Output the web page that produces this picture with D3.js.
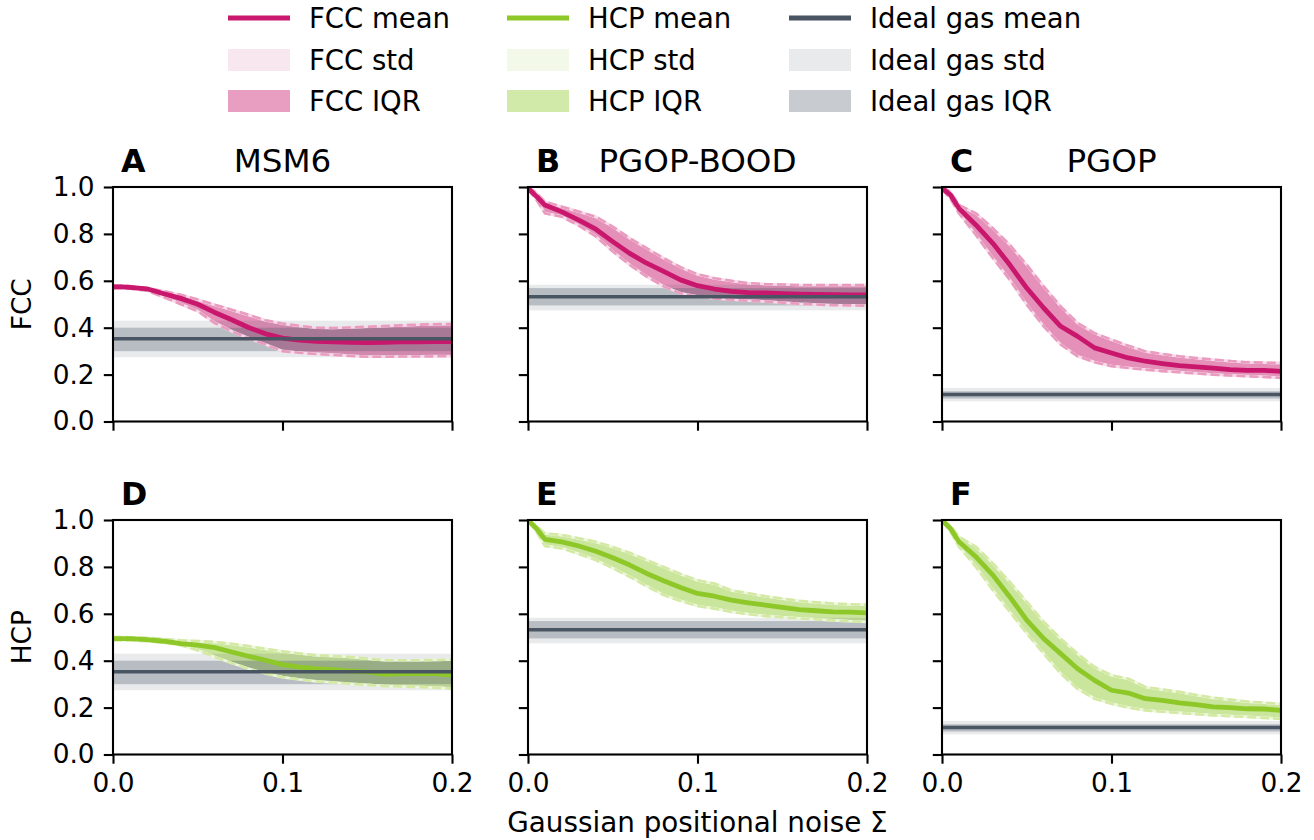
<!DOCTYPE html>
<html><head><meta charset="utf-8">
<script src="https://cdn.jsdelivr.net/npm/d3@7"></script>
<style>body{margin:0;background:#fff}text{font-family:"DejaVu Sans",sans-serif}</style>
</head><body>
<script>
// ---- data ----
const noise = [0, 0.005, 0.01, 0.02, 0.03, 0.04, 0.05, 0.06, 0.07, 0.08, 0.09, 0.10, 0.11, 0.12, 0.13, 0.14, 0.15, 0.16, 0.17, 0.18, 0.19, 0.20];
const methods = ["MSM6", "PGOP-BOOD", "PGOP"];
const structures = ["FCC", "HCP"];
const panelLetters = ["A", "B", "C", "D", "E", "F"];
const yTicks = [0, 0.2, 0.4, 0.6, 0.8, 1.0];
const xTicks = [0, 0.1, 0.2];

// FCC / MSM6
const fccMsm6Mean  = [0.574,0.574,0.572,0.566,0.545,0.525,0.500,0.465,0.434,0.401,0.374,0.356,0.347,0.342,0.340,0.338,0.336,0.338,0.340,0.340,0.341,0.341];
const fccMsm6StdHi = [0.580,0.580,0.578,0.568,0.556,0.540,0.520,0.498,0.477,0.455,0.432,0.418,0.408,0.400,0.399,0.401,0.404,0.407,0.410,0.413,0.415,0.416];
const fccMsm6StdLo = [0.568,0.568,0.566,0.558,0.530,0.500,0.470,0.420,0.385,0.355,0.328,0.300,0.293,0.288,0.284,0.280,0.276,0.276,0.277,0.277,0.278,0.278];
const fccMsm6IqrHi = [0.578,0.578,0.576,0.565,0.551,0.534,0.513,0.491,0.470,0.448,0.425,0.411,0.401,0.394,0.393,0.395,0.398,0.401,0.404,0.407,0.409,0.410];
const fccMsm6IqrLo = [0.570,0.570,0.568,0.561,0.535,0.506,0.477,0.428,0.392,0.362,0.335,0.307,0.300,0.295,0.291,0.287,0.283,0.283,0.284,0.284,0.285,0.285];
// FCC / PGOP-BOOD
const fccBoodMean  = [0.995,0.960,0.923,0.894,0.859,0.820,0.767,0.717,0.675,0.640,0.604,0.579,0.565,0.555,0.550,0.548,0.545,0.543,0.542,0.541,0.540,0.540];
const fccBoodStdHi = [1.000,0.975,0.937,0.916,0.895,0.873,0.831,0.782,0.739,0.697,0.658,0.628,0.611,0.600,0.590,0.586,0.584,0.582,0.582,0.582,0.582,0.582];
const fccBoodStdLo = [0.990,0.945,0.888,0.873,0.835,0.789,0.725,0.668,0.618,0.576,0.547,0.533,0.525,0.519,0.515,0.512,0.507,0.502,0.499,0.496,0.495,0.494];
const fccBoodIqrHi = [0.998,0.970,0.931,0.910,0.889,0.867,0.825,0.776,0.733,0.691,0.652,0.622,0.605,0.594,0.585,0.581,0.579,0.577,0.577,0.577,0.577,0.577];
const fccBoodIqrLo = [0.992,0.950,0.894,0.879,0.841,0.795,0.731,0.674,0.624,0.582,0.553,0.539,0.531,0.525,0.521,0.518,0.513,0.508,0.505,0.502,0.501,0.500];
// FCC / PGOP
const fccPgopMean  = [0.995,0.966,0.909,0.838,0.760,0.668,0.569,0.484,0.406,0.363,0.314,0.292,0.271,0.257,0.247,0.238,0.233,0.228,0.221,0.218,0.218,0.214];
const fccPgopStdHi = [1.000,0.980,0.923,0.888,0.824,0.753,0.668,0.576,0.491,0.420,0.377,0.349,0.323,0.299,0.288,0.278,0.271,0.264,0.258,0.253,0.251,0.250];
const fccPgopStdLo = [0.990,0.950,0.888,0.795,0.697,0.604,0.498,0.406,0.328,0.278,0.253,0.236,0.228,0.221,0.215,0.210,0.205,0.200,0.196,0.193,0.190,0.186];
const fccPgopIqrHi = [0.998,0.974,0.917,0.882,0.818,0.747,0.662,0.570,0.485,0.414,0.371,0.343,0.317,0.293,0.282,0.272,0.265,0.258,0.252,0.247,0.245,0.244];
const fccPgopIqrLo = [0.992,0.956,0.894,0.801,0.703,0.610,0.504,0.412,0.334,0.284,0.259,0.242,0.234,0.227,0.221,0.216,0.211,0.206,0.202,0.199,0.196,0.192];
// HCP / MSM6
const hcpMsm6Mean  = [0.494,0.494,0.494,0.490,0.483,0.473,0.466,0.456,0.437,0.419,0.402,0.383,0.373,0.366,0.362,0.356,0.352,0.342,0.345,0.345,0.345,0.339];
const hcpMsm6StdHi = [0.501,0.501,0.500,0.498,0.493,0.487,0.484,0.480,0.472,0.462,0.451,0.440,0.431,0.423,0.420,0.416,0.409,0.402,0.402,0.402,0.403,0.405];
const hcpMsm6StdLo = [0.487,0.487,0.486,0.483,0.477,0.466,0.444,0.416,0.390,0.366,0.345,0.330,0.320,0.312,0.307,0.302,0.297,0.292,0.290,0.288,0.285,0.281];
const hcpMsm6IqrHi = [0.499,0.499,0.498,0.495,0.489,0.482,0.478,0.474,0.466,0.456,0.445,0.434,0.425,0.417,0.414,0.410,0.403,0.396,0.396,0.396,0.397,0.399];
const hcpMsm6IqrLo = [0.489,0.489,0.488,0.486,0.481,0.471,0.450,0.422,0.396,0.372,0.351,0.336,0.326,0.318,0.313,0.308,0.303,0.298,0.296,0.294,0.291,0.287];
// HCP / PGOP-BOOD
const hcpBoodMean  = [0.999,0.964,0.917,0.907,0.889,0.867,0.839,0.808,0.772,0.741,0.712,0.687,0.675,0.658,0.647,0.637,0.627,0.618,0.613,0.608,0.607,0.604];
const hcpBoodStdHi = [1.000,0.975,0.943,0.936,0.922,0.907,0.885,0.860,0.830,0.800,0.770,0.743,0.729,0.700,0.688,0.675,0.665,0.655,0.649,0.644,0.641,0.639];
const hcpBoodStdLo = [0.995,0.950,0.889,0.879,0.855,0.829,0.795,0.758,0.718,0.680,0.655,0.633,0.622,0.608,0.598,0.590,0.585,0.580,0.576,0.572,0.568,0.565];
const hcpBoodIqrHi = [0.999,0.969,0.937,0.930,0.916,0.901,0.879,0.854,0.824,0.794,0.764,0.737,0.723,0.694,0.682,0.669,0.659,0.649,0.643,0.638,0.635,0.633];
const hcpBoodIqrLo = [0.997,0.956,0.895,0.885,0.861,0.835,0.801,0.764,0.724,0.686,0.661,0.639,0.628,0.614,0.604,0.596,0.591,0.586,0.582,0.578,0.574,0.571];
// HCP / PGOP
const hcpPgopMean  = [0.999,0.964,0.907,0.843,0.765,0.672,0.573,0.494,0.430,0.366,0.316,0.274,0.262,0.238,0.231,0.220,0.213,0.203,0.200,0.195,0.194,0.188];
const hcpPgopStdHi = [1.000,0.975,0.929,0.886,0.815,0.736,0.651,0.566,0.494,0.430,0.373,0.338,0.323,0.288,0.277,0.267,0.254,0.242,0.234,0.226,0.221,0.216];
const hcpPgopStdLo = [0.995,0.950,0.886,0.800,0.701,0.608,0.516,0.430,0.345,0.280,0.238,0.216,0.200,0.188,0.182,0.177,0.172,0.167,0.163,0.160,0.156,0.152];
const hcpPgopIqrHi = [0.999,0.969,0.923,0.880,0.809,0.730,0.645,0.560,0.488,0.424,0.367,0.332,0.317,0.282,0.271,0.261,0.248,0.236,0.228,0.220,0.215,0.210];
const hcpPgopIqrLo = [0.997,0.956,0.892,0.806,0.707,0.614,0.522,0.436,0.351,0.286,0.244,0.222,0.206,0.194,0.188,0.183,0.178,0.173,0.169,0.166,0.162,0.158];
// Ideal gas reference per method: [MSM6, PGOP-BOOD, PGOP]
const idealMean  = [0.353, 0.532, 0.115];
const idealStdHi = [0.430, 0.583, 0.143];
const idealStdLo = [0.274, 0.474, 0.086];
const idealIqrHi = [0.400, 0.569, 0.129];
const idealIqrLo = [0.300, 0.495, 0.098];

const seriesTable = [
  [fccMsm6Mean, fccMsm6StdLo, fccMsm6StdHi, fccMsm6IqrLo, fccMsm6IqrHi],
  [fccBoodMean, fccBoodStdLo, fccBoodStdHi, fccBoodIqrLo, fccBoodIqrHi],
  [fccPgopMean, fccPgopStdLo, fccPgopStdHi, fccPgopIqrLo, fccPgopIqrHi],
  [hcpMsm6Mean, hcpMsm6StdLo, hcpMsm6StdHi, hcpMsm6IqrLo, hcpMsm6IqrHi],
  [hcpBoodMean, hcpBoodStdLo, hcpBoodStdHi, hcpBoodIqrLo, hcpBoodIqrHi],
  [hcpPgopMean, hcpPgopStdLo, hcpPgopStdHi, hcpPgopIqrLo, hcpPgopIqrHi]
];

// ---- style ----
const colors = {
  FCC: {base: "rgb(200,23,108)", std: "rgba(200,23,108,0.10)", iqr: "rgba(200,23,108,0.42)", dashBg: "#f8dbe8", dash: "#e99cc0"},
  HCP: {base: "rgb(141,200,40)", std: "rgba(141,200,40,0.10)", iqr: "rgba(141,200,40,0.40)", dashBg: "#eef6dc", dash: "#d3e9a4"},
  ideal: {base: "rgb(74,85,99)", std: "rgba(74,85,99,0.12)", iqr: "rgba(74,85,99,0.30)"}
};
const colLeft = [113, 528, 942];
const rowTop = [187, 520];
const PW = 339, PH = 234.5;
const FS = 26.4;

const svg = d3.select("body").append("svg").attr("width", 1314).attr("height", 840);

for (let r = 0; r < 2; r++) {
  for (let c = 0; c < 3; c++) {
    const idx = r * 3 + c;
    const st = structures[r];
    const col = colors[st];
    const [mean, sLo, sHi, qLo, qHi] = seriesTable[idx];
    const g = svg.append("g").attr("transform", `translate(${colLeft[c]},${rowTop[r]})`);
    const xs = d3.scaleLinear().domain([0, 0.2]).range([0, PW]);
    const ys = d3.scaleLinear().domain([0, 1]).range([PH, 0]);
    const clipId = "clip" + idx;
    g.append("clipPath").attr("id", clipId).append("rect").attr("width", PW).attr("height", PH);
    const plot = g.append("g").attr("clip-path", `url(#${clipId})`);
    const pts = noise.map((v, i) => i);
    const band = (lo, hi) => d3.area().x(i => xs(noise[i])).y0(i => ys(lo[i])).y1(i => ys(hi[i]))(pts);
    const line = arr => d3.line().x(i => xs(noise[i])).y(i => ys(arr[i]))(pts);

    plot.append("path").attr("d", band(sLo, sHi)).attr("fill", col.std);
    plot.append("path").attr("d", band(qLo, qHi)).attr("fill", col.iqr);
    // ideal gas bands
    const ib = (lo, hi, f) => plot.append("rect").attr("x", xs(0)).attr("width", xs(0.2) - xs(0))
      .attr("y", ys(hi)).attr("height", ys(lo) - ys(hi)).attr("fill", f);
    ib(idealStdLo[c], idealStdHi[c], colors.ideal.std);
    ib(idealIqrLo[c], idealIqrHi[c], colors.ideal.iqr);
    // dashed std edges
    [sLo, sHi].forEach(a => {
      plot.append("path").attr("d", line(a)).attr("fill", "none").attr("stroke", col.dashBg).attr("stroke-width", 2.6);
      plot.append("path").attr("d", line(a)).attr("fill", "none").attr("stroke", col.dash)
        .attr("stroke-width", 2.6).attr("stroke-dasharray", "9,4");
    });
    plot.append("path").attr("d", line(mean)).attr("fill", "none").attr("stroke", col.base)
      .attr("stroke-width", 4.8).attr("stroke-linejoin", "round");
    plot.append("line").attr("x1", xs(0)).attr("x2", xs(0.2)).attr("y1", ys(idealMean[c])).attr("y2", ys(idealMean[c]))
      .attr("stroke", colors.ideal.base).attr("stroke-width", 3.5);

    // axes
    const ya = d3.axisLeft(ys).tickValues(yTicks).tickSize(9.2).tickPadding(9.2)
      .tickFormat(c === 0 ? d3.format(".1f") : () => "");
    const xa = d3.axisBottom(xs).tickValues(xTicks).tickSize(9.2).tickPadding(9.2)
      .tickFormat(r === 1 ? d3.format(".1f") : () => "");
    const gy = g.append("g").call(ya);
    const gx = g.append("g").attr("transform", `translate(0,${PH})`).call(xa);
    [gx, gy].forEach(a => {
      a.select(".domain").remove();
      a.selectAll("line").attr("stroke", "#000").attr("stroke-width", 2.1);
      a.selectAll("text").attr("fill", "#000").style("font-size", FS + "px").style("font-family", "DejaVu Sans");
    });
    g.append("rect").attr("width", PW).attr("height", PH).attr("fill", "none")
      .attr("stroke", "#000").attr("stroke-width", 2.1);

    // letter + title
    g.append("text").attr("x", 8).attr("y", -15).text(panelLetters[idx])
      .style("font-size", "31.7px").style("font-weight", "bold");
    if (r === 0) {
      g.append("text").attr("x", PW / 2).attr("y", -15).attr("text-anchor", "middle")
        .text(methods[c]).style("font-size", "32.6px");
    }
    if (c === 0) {
      g.append("text").attr("transform", `translate(${-82},${PH / 2}) rotate(-90)`)
        .attr("text-anchor", "middle").text(st).style("font-size", FS + "px");
    }
  }
}
// x axis label
svg.append("text").attr("x", colLeft[1] + PW / 2).attr("y", 832).attr("text-anchor", "middle")
  .text("Gaussian positional noise Σ").style("font-size", "27.8px");

// ---- legend ----
const legendCols = [{x: 228, key: "FCC", name: "FCC"}, {x: 507, key: "HCP", name: "HCP"}, {x: 789, key: "ideal", name: "Ideal gas"}];
const legendRows = [{y: 18, kind: "mean"}, {y: 60, kind: "std"}, {y: 101, kind: "IQR"}];
legendCols.forEach(lc => {
  const cc = colors[lc.key];
  legendRows.forEach(lr => {
    if (lr.kind === "mean") {
      svg.append("line").attr("x1", lc.x).attr("x2", lc.x + 62).attr("y1", lr.y).attr("y2", lr.y)
        .attr("stroke", cc.base).attr("stroke-width", 4.8);
    } else {
      svg.append("rect").attr("x", lc.x).attr("y", lr.y - 11).attr("width", 62).attr("height", 22)
        .attr("fill", lr.kind === "std" ? cc.std : cc.iqr);
    }
    svg.append("text").attr("x", lc.x + 81).attr("y", lr.y + 10).text(lc.name + " " + lr.kind)
      .style("font-size", "27.5px");
  });
});
</script>
</body></html>
